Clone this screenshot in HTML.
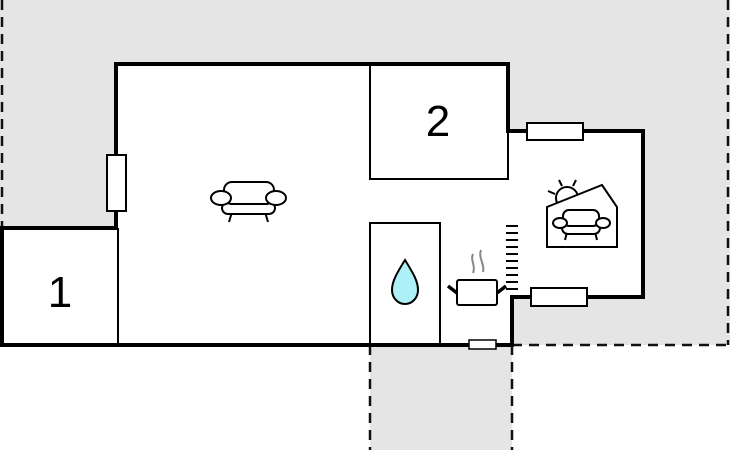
<!DOCTYPE html>
<html><head><meta charset="utf-8"><style>html,body{margin:0;padding:0;background:#fff}svg{display:block}</style></head><body>
<svg width="730" height="450" viewBox="0 0 730 450" xmlns="http://www.w3.org/2000/svg">
<rect x="0" y="0" width="730" height="345" fill="#e5e5e5"/>
<rect x="370" y="345" width="142" height="105" fill="#e5e5e5"/>
<g stroke="#111" stroke-width="2.5" stroke-dasharray="10,7" fill="none">
<line x1="2" y1="0" x2="2" y2="228"/>
<line x1="728" y1="0" x2="728" y2="345"/>
<line x1="512" y1="345" x2="728" y2="345"/>
<line x1="370" y1="345" x2="370" y2="450"/>
<line x1="512" y1="345" x2="512" y2="450"/>
</g>
<polygon points="116,64 508,64 508,131 643,131 643,297 512,297 512,345 2,345 2,228 116,228" fill="#fff" stroke="#000" stroke-width="4"/>
<g stroke="#000" stroke-width="2" fill="none">
<line x1="118" y1="228" x2="118" y2="345"/>
<rect x="370" y="64" width="138" height="115"/>
<rect x="370" y="223" width="70" height="122"/>
</g>
<g fill="#fff" stroke="#000" stroke-width="2">
<rect x="107" y="155" width="19" height="56"/>
<rect x="527" y="123" width="56" height="17"/>
<rect x="531" y="288" width="56" height="18"/>
<rect x="469" y="340" width="27" height="9" stroke-width="1.5"/>
</g>
<g stroke="#000" stroke-width="2">
<line x1="506" y1="226" x2="518" y2="226"/>
<line x1="506" y1="233" x2="518" y2="233"/>
<line x1="506" y1="240" x2="518" y2="240"/>
<line x1="506" y1="247" x2="518" y2="247"/>
<line x1="506" y1="254" x2="518" y2="254"/>
<line x1="506" y1="261" x2="518" y2="261"/>
<line x1="506" y1="268" x2="518" y2="268"/>
<line x1="506" y1="275" x2="518" y2="275"/>
<line x1="506" y1="282" x2="518" y2="282"/>
<line x1="506" y1="289" x2="518" y2="289"/>
</g>
<text x="60" y="307" font-family="Liberation Sans, sans-serif" font-size="44" text-anchor="middle">1</text>
<text x="438" y="136" font-family="Liberation Sans, sans-serif" font-size="44" text-anchor="middle">2</text>
<!-- sofa -->
<g stroke="#000" stroke-width="2" fill="#fff">
<line x1="232" y1="212" x2="229" y2="222"/><line x1="265" y1="212" x2="268" y2="222"/>
<rect x="222" y="202" width="53" height="12" rx="6"/>
<rect x="224" y="182" width="50" height="22" rx="8"/>
<ellipse cx="221" cy="198" rx="10" ry="7"/>
<ellipse cx="276" cy="198" rx="10" ry="7"/>
</g>
<!-- water drop -->
<path d="M405,260 C397,273 392,281 392,290 C392,298 398,304 405,304 C412,304 418,298 418,290 C418,281 413,273 405,260 Z" fill="#aef0f8" stroke="#000" stroke-width="2"/>
<!-- pot -->
<g fill="none" stroke="#888" stroke-width="2">
<path d="M473,254 C470,260 476,266 473,273"/>
<path d="M481,250 C478,258 485,264 483,272"/>
</g>
<rect x="457" y="280" width="40" height="25" rx="2" fill="#fff" stroke="#000" stroke-width="2"/>
<line x1="448" y1="286" x2="457" y2="293" stroke="#000" stroke-width="3.5"/>
<line x1="506" y1="286" x2="497" y2="293" stroke="#000" stroke-width="3.5"/>
<!-- sunroom icon -->
<g stroke="#000" stroke-width="2" fill="#fff">
<line x1="559" y1="180" x2="562" y2="186"/>
<line x1="576" y1="180" x2="573" y2="186"/>
<line x1="548" y1="191" x2="555" y2="194"/>
<circle cx="567" cy="198" r="11"/>
<polygon points="547,207 602,185 617,207 617,247 547,247"/>
<line x1="567" y1="232" x2="565" y2="240"/><line x1="595" y1="232" x2="597" y2="240"/>
<rect x="562" y="222" width="38" height="12" rx="6"/>
<rect x="563" y="210" width="36" height="16" rx="6"/>
<ellipse cx="560" cy="223" rx="7" ry="5"/>
<ellipse cx="603" cy="223" rx="7" ry="5"/>
</g>
</svg>
</body></html>
